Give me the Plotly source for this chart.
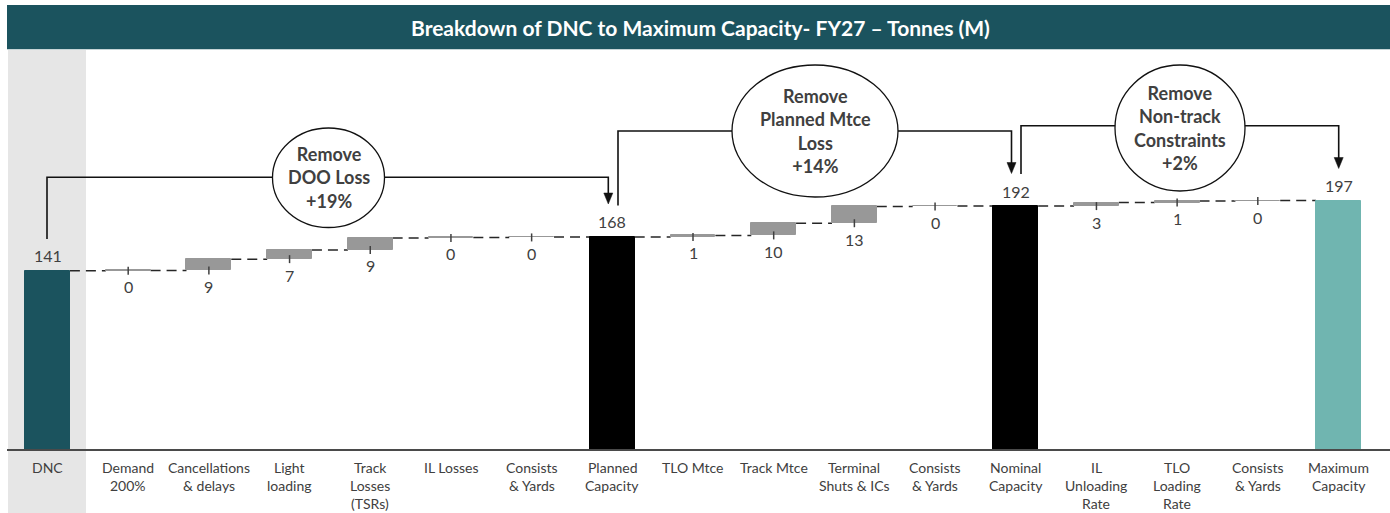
import plotly.graph_objects as go

# ---------------- data ----------------
categories = ["DNC", "Demand<br>200%", "Cancellations<br>& delays", "Light<br>loading",
              "Track<br>Losses<br>(TSRs)", "IL Losses", "Consists<br>& Yards",
              "Planned<br>Capacity", "TLO Mtce", "Track Mtce", "Terminal<br>Shuts & ICs",
              "Consists<br>& Yards", "Nominal<br>Capacity", "IL<br>Unloading<br>Rate",
              "TLO<br>Loading<br>Rate", "Consists<br>& Yards", "Maximum<br>Capacity"]
measures = ["absolute", "relative", "relative", "relative", "relative", "relative", "relative",
            "total", "relative", "relative", "relative", "relative", "total",
            "relative", "relative", "relative", "total"]
values = [141.2, 0.3, 8.9, 7.3, 9.4, 0.4, 0.4,
          0, 1.2, 9.6, 13.2, 0.3, 0,
          2.8, 1.2, 0.4, 0]
group_titles = ["Remove<br>DOO Loss<br>+19%",
                "Remove<br>Planned Mtce<br>Loss<br>+14%",
                "Remove<br>Non-track<br>Constraints<br>+2%"]
title_text = "Breakdown of DNC to Maximum Capacity- FY27 \u2013 Tonnes (M)"

# ---------------- styles ----------------
W, H = 1390, 513
X0PX, DXPX = 47.5, 80.6875      # pixel centre of first category, spacing
Y0PX, KY = 450.0, 1.269         # pixel of zero line, px per unit
TEAL_D = "#1B535E"
TEAL_L = "#70B5B0"
GREY = "#989898"
TXT = "#404040"
FONT = "Lato"

def X(px):
    return (px - X0PX) / DXPX

def Y(py):
    return (Y0PX - py) / KY

# waterfall geometry from data
bases, heights, ends = [], [], []
run = 0.0
for m, v in zip(measures, values):
    if m == "absolute":
        b, h = 0.0, v
        run = v
    elif m == "relative":
        b, h = run, v
        run = run + v
    else:
        b, h = 0.0, run
    bases.append(b)
    heights.append(h)
    ends.append(run)

colors = []
for i, m in enumerate(measures):
    if m == "absolute":
        colors.append(TEAL_D)
    elif m == "relative":
        colors.append(GREY)
    elif i == len(measures) - 1:
        colors.append(TEAL_L)
    else:
        colors.append("#000000")

n = len(categories)
xs = list(range(n))
BW = 0.555

fig = go.Figure()
fig.add_trace(go.Bar(x=xs, y=heights, base=bases, width=BW,
                     marker=dict(color=colors, line=dict(color=colors, width=1)),
                     hoverinfo="skip", showlegend=False))

shapes = []
annotations = []

# grey background behind DNC column
shapes.append(dict(type="rect", xref="x", yref="y", x0=X(8), x1=X(86), y0=Y(513), y1=Y(50),
                   fillcolor="#E6E6E6", line=dict(width=0), layer="below"))

# dashed connectors
for i in range(n - 1):
    shapes.append(dict(type="line", xref="x", yref="y", x0=i + BW / 2, x1=i + 1 - BW / 2,
                       y0=ends[i], y1=ends[i], layer="below",
                       line=dict(color="#262626", width=1.5, dash="10px,6px")))

# baseline
shapes.append(dict(type="line", xref="x", yref="y", x0=X(7), x1=X(1390), y0=0, y1=0,
                   line=dict(color="#4a4a4a", width=2)))

# value labels + small ticks
for i, m in enumerate(measures):
    if m == "relative":
        lab = f"{round(values[i]):d}"
        shapes.append(dict(type="line", xref="x", yref="y", ysizemode="pixel",
                           yanchor=bases[i], x0=i, x1=i, y0=-4, y1=4,
                           line=dict(color=TXT, width=1.5)))
        annotations.append(dict(x=i, y=bases[i], xref="x", yref="y", text=lab,
                                showarrow=False, yanchor="middle", yshift=-16,
                                font=dict(family=FONT, size=16, color=TXT)))
    else:
        lab = f"{round(heights[i]):d}"
        annotations.append(dict(x=i, y=heights[i], xref="x", yref="y", text=lab,
                                showarrow=False, yanchor="middle", yshift=15,
                                font=dict(family=FONT, size=16, color=TXT)))

# category labels (one annotation per line)
for i, c in enumerate(categories):
    for j, line in enumerate(c.split("<br>")):
        annotations.append(dict(x=i, y=0, xref="x", yref="y", text=line, showarrow=False,
                                yanchor="middle", yshift=-(17 + 18.3 * j),
                                font=dict(family=FONT, size=14, color=TXT)))

# brackets: (start px x, start bottom y, horizontal y, arrow x, arrow tip y, ellipse)
brackets = [
    (47.0, 239.0, 177.3, 608.3, 204.0, (272.5, 384.5, 128.0, 227.5)),
    (618.0, 205.5, 131.0, 1011.5, 173.5, (732.0, 898.0, 65.0, 197.0)),
    (1021.0, 174.0, 125.7, 1338.7, 168.5, (1115.0, 1245.0, 65.0, 191.0)),
]
AH_W, AH_H = 9.0, 11.0
for k, (sx, sy, hy, ax, ty, ell) in enumerate(brackets):
    path = (f"M {X(sx)},{Y(sy)} L {X(sx)},{Y(hy)} L {X(ax)},{Y(hy)} "
            f"L {X(ax)},{Y(ty - AH_H + 1)}")
    shapes.append(dict(type="path", xref="x", yref="y", path=path,
                       line=dict(color="#111111", width=1.6), fillcolor="rgba(0,0,0,0)"))
    tri = (f"M {X(ax - AH_W / 2)},{Y(ty - AH_H)} L {X(ax + AH_W / 2)},{Y(ty - AH_H)} "
           f"L {X(ax)},{Y(ty)} Z")
    shapes.append(dict(type="path", xref="x", yref="y", path=tri,
                       line=dict(color="#111111", width=0.5), fillcolor="#111111"))
    ex0, ex1, ey0, ey1 = ell
    shapes.append(dict(type="circle", xref="x", yref="y", x0=X(ex0), x1=X(ex1),
                       y0=Y(ey1), y1=Y(ey0), fillcolor="white",
                       line=dict(color="#111111", width=1.3)))
    annotations.append(dict(x=X((ex0 + ex1) / 2), y=Y((ey0 + ey1) / 2), xref="x", yref="y",
                            text=f"<b>{group_titles[k]}</b>", showarrow=False,
                            yanchor="middle", xanchor="center",
                            font=dict(family=FONT, size=18, color=TXT)))

# title bar
shapes.append(dict(type="rect", xref="x", yref="y", x0=X(7), x1=X(1390), y0=Y(49.3), y1=Y(5),
                   fillcolor=TEAL_D, line=dict(width=0)))
annotations.append(dict(x=X(700), y=Y(27.5), xref="x", yref="y",
                        text=f"<b>{title_text}</b>",
                        showarrow=False, yanchor="middle",
                        font=dict(family=FONT, size=21, color="white")))

fig.update_layout(
    width=W, height=H,
    margin=dict(l=0, r=0, t=0, b=0),
    paper_bgcolor="white", plot_bgcolor="white",
    xaxis=dict(range=[X(0), X(W)], visible=False, fixedrange=True),
    yaxis=dict(range=[Y(H), Y(0)], visible=False, fixedrange=True),
    shapes=shapes, annotations=annotations,
    bargap=0, showlegend=False,
)

fig.write_html("out.html", config={"displayModeBar": False},
               post_script="document.body.style.margin='0';document.body.style.overflow='hidden';")
